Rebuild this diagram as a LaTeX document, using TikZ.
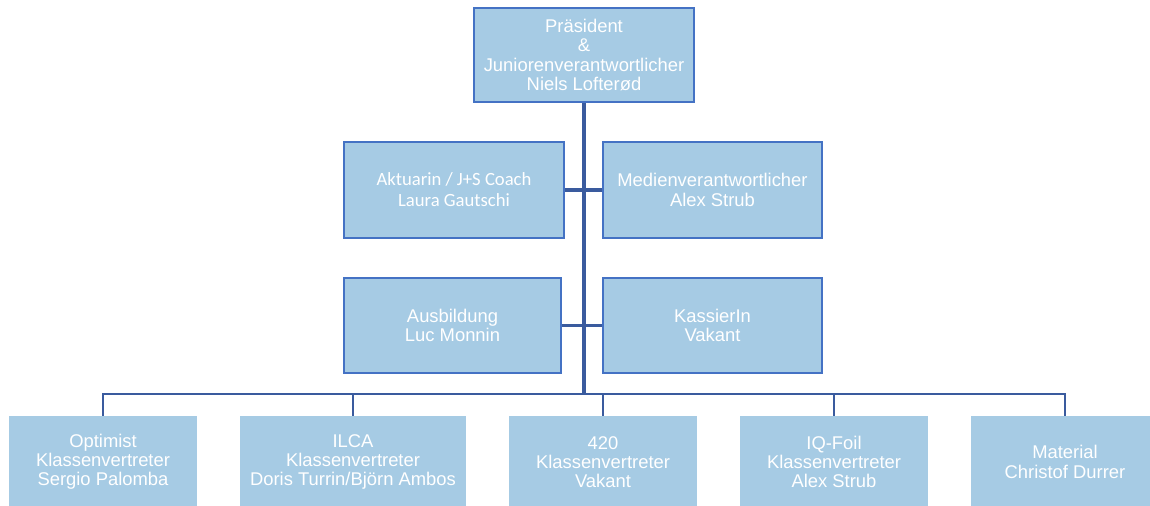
\documentclass[tikz,border=0pt]{standalone}
\usepackage{fontspec}
\setmainfont{Liberation Sans}
\newfontfamily\calib{Carlito}
\definecolor{boxfill}{HTML}{A6CBE4}
\definecolor{boxline}{HTML}{4472C4}
\definecolor{conn}{HTML}{3A5B9E}
\tikzset{
  base/.style={fill=boxfill, text=white, align=center, inner sep=0pt,
    font=\fontsize{13.8}{14.4}\selectfont},
  framed/.style={base, draw=boxline, line width=2.2pt},
  plain/.style={base, draw=none, minimum width=188*0.75pt, minimum height=92*0.75pt},
  link/.style={draw=conn, line width=2.5pt},
  buslink/.style={draw=conn, line width=2.1pt},
}
\begin{document}
\begin{tikzpicture}[x=0.75pt,y=-0.75pt]
\useasboundingbox (0,0) rectangle (1150,506);
% top
\node[framed, minimum width=220*0.75pt, minimum height=94*0.75pt] (pres) at (584,55)
  {Präsident\\\&\\Juniorenverantwortlicher\\Niels Lofterød};
% middle rows
\node[framed, minimum width=220*0.75pt, minimum height=96*0.75pt,
      font=\calib\fontsize{14}{15.8}\selectfont] (akt) at (454,190)
  {Aktuarin / J+S Coach\\Laura Gautschi};
\node[framed, minimum width=219*0.75pt, minimum height=96*0.75pt] (med) at (712.5,190)
  {Medienverantwortlicher\\Alex Strub};
\node[framed, minimum width=217*0.75pt, minimum height=95*0.75pt] (aus) at (452.5,325.5)
  {Ausbildung\\Luc Monnin};
\node[framed, minimum width=219*0.75pt, minimum height=95*0.75pt] (kas) at (712.5,325.5)
  {KassierIn\\Vakant};
% bottom row
\node[plain] (opt) at (103,462) {Optimist\\Klassenvertreter\\Sergio Palomba};
\node[plain, minimum width=226*0.75pt] (ilca) at (353,462) {ILCA\\Klassenvertreter\\Doris Turrin/Björn Ambos};
\node[plain] (v420) at (603,462) {420\\Klassenvertreter\\Vakant};
\node[plain] (iq) at (834,462) {IQ-Foil\\Klassenvertreter\\Alex Strub};
\node[plain] (mat) at (1065,462) {Material\\Christof Durrer};
% connectors
\coordinate (bus) at (584,394);
\draw[link] (pres.south) -- (bus);
\draw[link] (akt.east) -- (med.west);
\draw[link] (aus.east) -- (kas.west);
\draw[buslink] (opt.north) |- (bus) -| (mat.north);
\draw[buslink] (ilca.north) -- (ilca.north |- bus);
\draw[buslink] (v420.north) -- (v420.north |- bus);
\draw[buslink] (iq.north) -- (iq.north |- bus);
\end{tikzpicture}
\end{document}
